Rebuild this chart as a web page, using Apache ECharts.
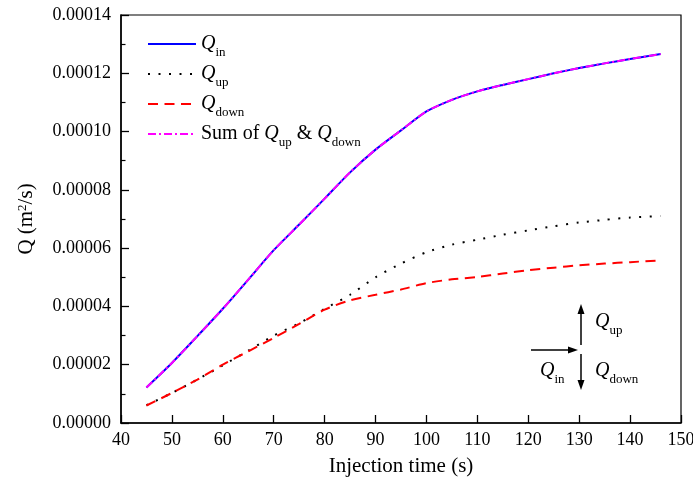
<!DOCTYPE html>
<html>
<head>
<meta charset="utf-8">
<script src="https://cdn.jsdelivr.net/npm/echarts@6/dist/echarts.min.js"></script>
<style>html,body{margin:0;padding:0;background:#fff}#c{width:693px;height:480px}</style>
</head>
<body>
<div id="c"></div>
<script>
var time = [45,50,55,60,65,70,75,80,85,90,95,100,105,110,115,120,125,130,135,140,146];
var qIn   = [1.22,2.06,2.98,3.92,4.92,5.93,6.81,7.70,8.60,9.38,10.04,10.69,11.09,11.38,11.60,11.80,12.00,12.18,12.34,12.49,12.66];
var qUp   = [0.61,1.03,1.49,1.98,2.48,3.00,3.42,3.92,4.40,5.00,5.47,5.86,6.12,6.29,6.46,6.61,6.75,6.88,6.97,7.05,7.10];
var qDown = [0.60,1.03,1.49,2.00,2.46,2.92,3.40,3.89,4.21,4.40,4.58,4.80,4.93,5.01,5.13,5.24,5.33,5.41,5.47,5.52,5.58];
var qSum  = [1.22,2.06,2.98,3.92,4.92,5.93,6.81,7.70,8.60,9.38,10.04,10.69,11.09,11.38,11.60,11.80,12.00,12.18,12.34,12.49,12.66];
var scale = 1e-5;
var yTickLabels = ['0.00000','0.00002','0.00004','0.00006','0.00008','0.00010','0.00012','0.00014'];

function pts(arr){ return time.map(function(t,i){ return [t, arr[i]*scale]; }); }

var FONT = 'Liberation Serif';
var rich = {
  q:{fontFamily:FONT,fontStyle:'italic',fontSize:20,color:'#000',verticalAlign:'bottom'},
  sub:{fontFamily:FONT,fontSize:13,color:'#000',verticalAlign:'bottom',padding:[0,0,-5,0]},
  t:{fontFamily:FONT,fontSize:20,color:'#000',verticalAlign:'bottom'}
};

var chart = echarts.init(document.getElementById('c'), null, {renderer:'canvas'});
var names = ['Qin','Qup','Qdown','Sum'];
var legendText = {
  'Qin':'{q|Q}{sub|in}',
  'Qup':'{q|Q}{sub|up}',
  'Qdown':'{q|Q}{sub|down}',
  'Sum':'{t|Sum of }{q|Q}{sub|up}{t| & }{q|Q}{sub|down}'
};
var option = {
  animation:false,
  backgroundColor:'#fff',
  grid:{left:121,right:12,top:15,bottom:57,containLabel:false,outerBoundsMode:'none',show:true,borderColor:'#000',borderWidth:1.2,backgroundColor:'transparent'},
  legend:{
    orient:'vertical',left:142,top:29,itemWidth:48,itemHeight:10,itemGap:5,
    data:names,
    itemStyle:{opacity:0,borderWidth:0},
    formatter:function(n){return legendText[n];},
    textStyle:{fontFamily:FONT,fontSize:20,color:'#000',rich:rich}
  },
  xAxis:{
    type:'value',min:40,max:150,interval:10,
    name:'Injection time (s)',nameLocation:'middle',nameGap:33,
    nameTextStyle:{fontFamily:FONT,fontSize:21,color:'#000'},
    axisLine:{lineStyle:{color:'#000',width:1.5}},
    axisTick:{inside:true,length:8,lineStyle:{color:'#000',width:1.3}},
    axisLabel:{fontFamily:FONT,fontSize:18,color:'#000',margin:8,formatter:function(v){return String(v);}},
    splitLine:{show:false}
  },
  yAxis:{
    type:'value',min:0,max:0.00014,interval:0.00002,
    name:'Q (m{sup|2}/s)',nameLocation:'middle',nameGap:84,nameRotate:90,
    nameTextStyle:{fontFamily:FONT,fontSize:21,color:'#000',rich:{sup:{fontFamily:FONT,fontSize:13,color:'#000',verticalAlign:'top',padding:[0,0,8,0]}}},
    axisLine:{lineStyle:{color:'#000',width:1.5}},
    axisTick:{inside:true,length:8,lineStyle:{color:'#000',width:1.3}},
    minorTick:{show:true,splitNumber:2,length:4.5,lineStyle:{color:'#000',width:1.2}},
    axisLabel:{fontFamily:FONT,fontSize:18,color:'#000',margin:10,formatter:function(v){return yTickLabels[Math.round(v/0.00002)];}},
    splitLine:{show:false}
  },
  series:[
    {name:'Qin',type:'line',data:pts(qIn),showSymbol:false,symbol:'none',smooth:0.25,
     lineStyle:{color:'#0000ff',width:2,type:'solid'},itemStyle:{color:'#0000ff'}},
    {name:'Qup',type:'line',data:pts(qUp),showSymbol:false,symbol:'none',smooth:0.25,
     lineStyle:{color:'#000',width:2,type:[2,8.5]},itemStyle:{color:'#000'}},
    {name:'Qdown',type:'line',data:pts(qDown),showSymbol:false,symbol:'none',smooth:0.25,
     lineStyle:{color:'#ff0000',width:2,type:[10,6.5]},itemStyle:{color:'#ff0000'}},
    {name:'Sum',type:'line',data:pts(qSum),showSymbol:false,symbol:'none',smooth:0.25,
     lineStyle:{color:'#ff00ff',width:2,type:[8,3,2,3]},itemStyle:{color:'#ff00ff'}}
  ],
  graphic:[
    {type:'line',shape:{x1:531,y1:350,x2:570,y2:350},style:{stroke:'#000',lineWidth:1.5}},
    {type:'polygon',shape:{points:[[578,350],[568,346.5],[568,353.5]]},style:{fill:'#000'}},
    {type:'line',shape:{x1:581,y1:345,x2:581,y2:312},style:{stroke:'#000',lineWidth:1.5}},
    {type:'polygon',shape:{points:[[581,304],[577.5,314],[584.5,314]]},style:{fill:'#000'}},
    {type:'line',shape:{x1:581,y1:354,x2:581,y2:382},style:{stroke:'#000',lineWidth:1.5}},
    {type:'polygon',shape:{points:[[581,390],[577.5,380],[584.5,380]]},style:{fill:'#000'}},
    {type:'text',left:595,top:312,style:{text:'{q|Q}{sub|up}',rich:rich,fontFamily:FONT}},
    {type:'text',left:540,top:361,style:{text:'{q|Q}{sub|in}',rich:rich,fontFamily:FONT}},
    {type:'text',left:595,top:361,style:{text:'{q|Q}{sub|down}',rich:rich,fontFamily:FONT}}
  ]
};
chart.setOption(option);
</script>
</body>
</html>
